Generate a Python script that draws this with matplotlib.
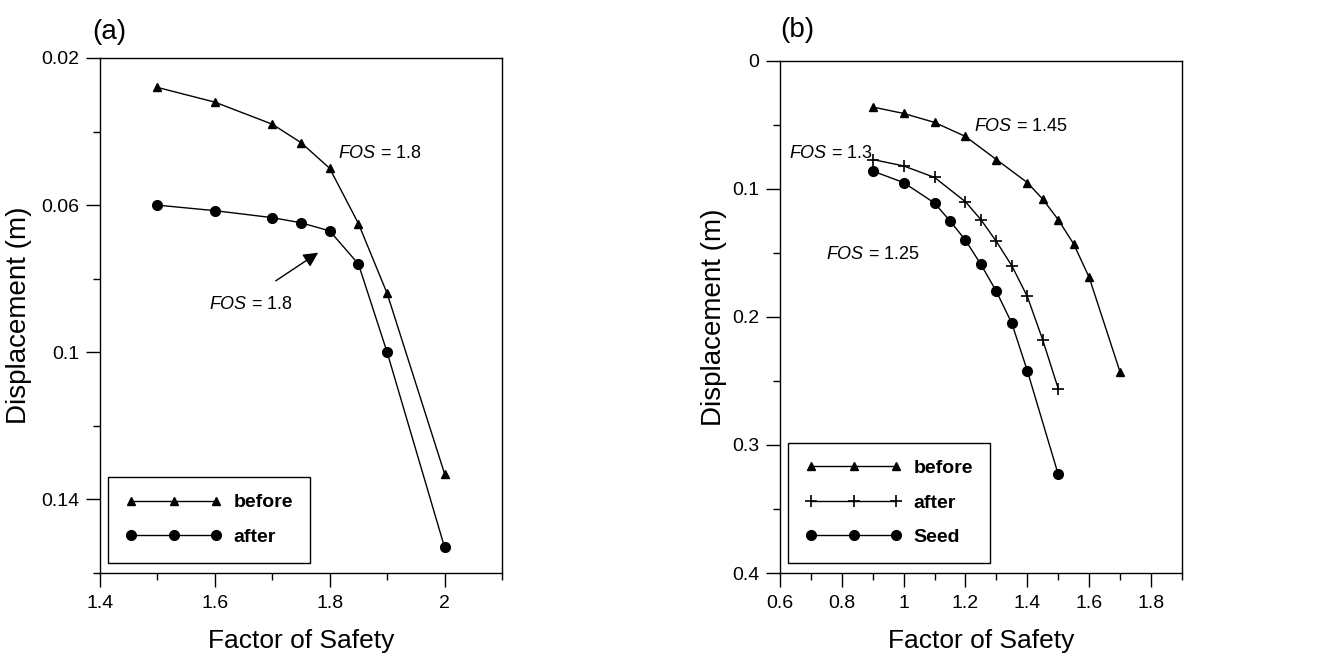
import numpy as np
import matplotlib.pyplot as plt

plt.rcParams['font.family'] = ['Liberation Sans', 'DejaVu Sans']
plt.rcParams['mathtext.fontset'] = 'custom'
plt.rcParams['mathtext.it'] = 'Liberation Sans:italic'
plt.rcParams['mathtext.rm'] = 'Liberation Sans'

# panel (a)
fos_a = [1.5, 1.6, 1.7, 1.75, 1.8, 1.85, 1.9, 2.0]
before_a = [0.028, 0.032, 0.038, 0.043, 0.050, 0.065, 0.084, 0.133]
after_a = [0.060, 0.0615, 0.0634, 0.0648, 0.067, 0.076, 0.100, 0.153]

# panel (b)
fos_b_before = [0.9, 1.0, 1.1, 1.2, 1.3, 1.4, 1.45, 1.5, 1.55, 1.6, 1.7]
before_b = [0.036, 0.041, 0.048, 0.059, 0.077, 0.095, 0.108, 0.124, 0.143, 0.169, 0.243]
fos_b_after = [0.9, 1.0, 1.1, 1.2, 1.25, 1.3, 1.35, 1.4, 1.45, 1.5]
after_b = [0.077, 0.082, 0.091, 0.110, 0.124, 0.141, 0.160, 0.184, 0.218, 0.256]
fos_b_seed = [0.9, 1.0, 1.1, 1.15, 1.2, 1.25, 1.3, 1.35, 1.4, 1.5]
seed_b = [0.086, 0.095, 0.111, 0.125, 0.140, 0.159, 0.180, 0.205, 0.242, 0.323]

fig = plt.figure(figsize=(13.28, 6.59), dpi=100)
ax1 = fig.add_axes([0.0753, 0.1305, 0.3027, 0.7815])
ax2 = fig.add_axes([0.5873, 0.1305, 0.3027, 0.7770])

lw = 1.0
ax1.plot(fos_a, before_a, color='k', lw=lw, marker='^', ms=6, label='before')
ax1.plot(fos_a, after_a, color='k', lw=lw, marker='o', ms=7, label='after')
ax1.set_xlim(1.4, 2.1)
ax1.set_ylim(0.16, 0.02)
ax1.set_xticks([1.4, 1.6, 1.8, 2.0])
ax1.set_xticklabels(['1.4', '1.6', '1.8', '2'])
ax1.set_xticks([1.5, 1.7, 1.9, 2.1], minor=True)
ax1.set_yticks([0.02, 0.06, 0.1, 0.14])
ax1.set_yticklabels(['0.02', '0.06', '0.1', '0.14'])
ax1.set_yticks([0.04, 0.08, 0.12, 0.16], minor=True)
ax1.text(1.814, 0.0459, r'$\it{FOS}$ = 1.8', fontsize=13, va='center')
ax1.text(1.59, 0.087, r'$\it{FOS}$ = 1.8', fontsize=13, va='center')
ax1.annotate('', xy=(1.784, 0.0725), xytext=(1.702, 0.081),
             arrowprops=dict(arrowstyle='-|>', color='k', lw=1, mutation_scale=22))
ax1.text(-0.02, 1.05, '(a)', transform=ax1.transAxes, fontsize=20, va='center')
ax1.yaxis.set_label_coords(-0.168, 0.5)

ax2.plot(fos_b_before, before_b, color='k', lw=lw, marker='^', ms=6, label='before')
ax2.plot(fos_b_after, after_b, color='k', lw=lw, marker='+', ms=9, mew=1.2, label='after')
ax2.plot(fos_b_seed, seed_b, color='k', lw=lw, marker='o', ms=7, label='Seed')
ax2.set_xlim(0.6, 1.9)
ax2.set_ylim(0.4, 0.0)
ax2.set_xticks([0.6, 0.8, 1.0, 1.2, 1.4, 1.6, 1.8])
ax2.set_xticklabels(['0.6', '0.8', '1', '1.2', '1.4', '1.6', '1.8'])
ax2.set_xticks(np.arange(0.7, 1.95, 0.2), minor=True)
ax2.set_yticks([0.0, 0.1, 0.2, 0.3, 0.4])
ax2.set_yticklabels(['0', '0.1', '0.2', '0.3', '0.4'])
ax2.set_yticks([0.05, 0.15, 0.25, 0.35], minor=True)
ax2.text(1.229, 0.051, r'$\it{FOS}$ = 1.45', fontsize=13, va='center')
ax2.text(0.628, 0.072, r'$\it{FOS}$ = 1.3', fontsize=13, va='center')
ax2.text(0.748, 0.151, r'$\it{FOS}$ = 1.25', fontsize=13, va='center')
ax2.text(0.0, 1.06, '(b)', transform=ax2.transAxes, fontsize=20, va='center')
ax2.yaxis.set_label_coords(-0.132, 0.5)

for ax in (ax1, ax2):
    ax.tick_params(which='major', direction='out', length=10, width=1, labelsize=14)
    ax.tick_params(axis='x', which='major', pad=6)
    ax.tick_params(axis='y', which='major', pad=5)
    ax.tick_params(which='minor', direction='out', length=5, width=1)
    for s in ax.spines.values():
        s.set_linewidth(1)
    ax.set_xlabel('Factor of Safety', fontsize=19, labelpad=12)
    ax.set_ylabel('Displacement (m)', fontsize=20)
    leg = ax.legend(loc='lower left', numpoints=3, handlelength=5.0, fancybox=False,
                    edgecolor='k', framealpha=1, borderpad=0.87, labelspacing=0.86,
                    handletextpad=0.6, borderaxespad=0,
                    prop={'weight': 'bold', 'size': 14}, bbox_to_anchor=(0.02, 0.02))
    leg.get_frame().set_linewidth(1)

fig.savefig('out.png', dpi=100)
